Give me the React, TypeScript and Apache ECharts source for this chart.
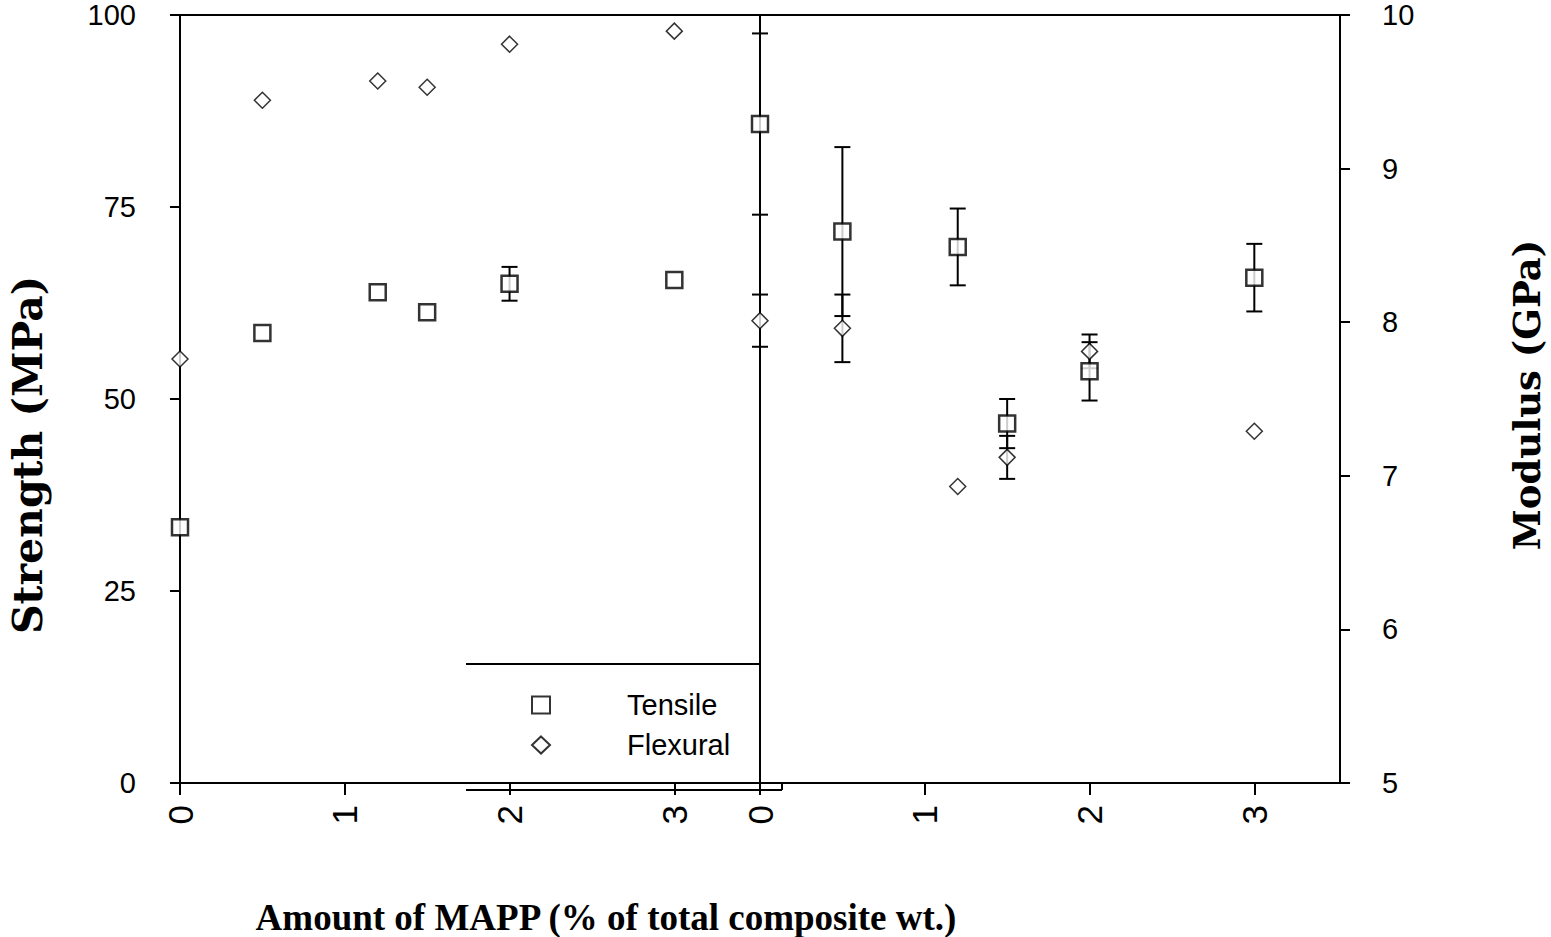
import React, { useEffect, useRef } from "react";
import * as echarts from "echarts";

// ---- data ----
const mappLevels = [0, 0.5, 1.2, 1.5, 2, 3];
const xTickValues = [0, 1, 2, 3];

const tensileStrength = [33.3, 58.6, 63.9, 61.3, 65.0, 65.5];
const tensileStrengthErr = [0, 0, 0, 0, 2.2, 0];
const flexuralStrength = [55.2, 88.9, 91.4, 90.6, 96.2, 97.9];

const tensileModulus = [9.29, 8.59, 8.49, 7.34, 7.68, 8.29];
const tensileModulusErr = [0.59, 0.55, 0.25, 0.16, 0.19, 0.22];
const flexuralModulus = [8.01, 7.96, 6.93, 7.12, 7.81, 7.29];
const flexuralModulusErr = [0.17, 0.22, 0, 0.14, 0.11, 0];

const seriesNames = ["Tensile", "Flexural"];
const strengthTicks = [0, 25, 50, 75, 100];
const modulusTicks = [5, 6, 7, 8, 9, 10];

const xTitle = "Amount of MAPP (% of total composite wt.)";
const yLeftTitle = "Strength (MPa)";
const yRightTitle = "Modulus (GPa)";

const pairs = (xs: number[], ys: number[]) => xs.map((x, i) => [x, ys[i]]);
const errRows = (xs: number[], ys: number[], es: number[]) =>
  xs
    .map((x, i) => [x, ys[i] - es[i], ys[i] + es[i]])
    .filter((_, i) => es[i] > 0);

const errorRender = (params: any, api: any) => {
  const x = api.value(0);
  const lo = api.coord([x, api.value(1)]);
  const hi = api.coord([x, api.value(2)]);
  const hw = 8;
  const st = { stroke: "#000", lineWidth: 2 };
  return {
    type: "group",
    children: [
      { type: "line", shape: { x1: lo[0], y1: lo[1], x2: hi[0], y2: hi[1] }, style: st },
      { type: "line", shape: { x1: lo[0] - hw, y1: lo[1], x2: lo[0] + hw, y2: lo[1] }, style: st },
      { type: "line", shape: { x1: hi[0] - hw, y1: hi[1], x2: hi[0] + hw, y2: hi[1] }, style: st },
    ],
  };
};

const tickFont = "'Liberation Sans', Arial, sans-serif";
const yTitleFont = "'DejaVu Serif', 'Liberation Serif', serif";
const xTitleFont = "'Liberation Serif', 'Times New Roman', serif";

export default function App() {
  const ref = useRef<HTMLDivElement>(null);

  useEffect(() => {
    if (!ref.current) return;
    const chart = echarts.init(ref.current, null, { renderer: "svg" });

    const xAxisBase = (gridIndex: number) => ({
      type: "value",
      gridIndex,
      min: 0,
      max: 3.52,
      axisLine: { show: true, onZero: false, lineStyle: { color: "#000", width: 2 } },
      axisTick: {
        show: true,
        length: 12,
        customValues: xTickValues,
        lineStyle: { color: "#000", width: 2 },
      },
      axisLabel: {
        customValues: xTickValues,
        rotate: 90,
        margin: 22,
        color: "#000",
        fontFamily: tickFont,
        fontSize: 35,
      },
      splitLine: { show: false },
    });

    const squareStyle = { color: "#fff", borderColor: "#000", borderWidth: 2.5 };
    const diamondStyle = { color: "#fff", borderColor: "#000", borderWidth: 1.5 };

    chart.setOption({
      animation: false,
      backgroundColor: "#fff",
      grid: [
        { left: 180, top: 15, width: 580, height: 768, show: true, borderColor: "#000", borderWidth: 2, backgroundColor: "transparent" },
        { left: 760, top: 15, width: 580, height: 768, show: true, borderColor: "#000", borderWidth: 2, backgroundColor: "transparent" },
      ],
      xAxis: [xAxisBase(0), xAxisBase(1)],
      yAxis: [
        {
          type: "value",
          gridIndex: 0,
          position: "left",
          min: strengthTicks[0],
          max: strengthTicks[strengthTicks.length - 1],
          interval: 25,
          axisLine: { show: true, onZero: false, lineStyle: { color: "#000", width: 2 } },
          axisTick: { show: true, length: 10, lineStyle: { color: "#000", width: 2 } },
          axisLabel: { margin: 44, color: "#000", fontFamily: tickFont, fontSize: 29 },
          splitLine: { show: false },
        },
        {
          type: "value",
          gridIndex: 1,
          position: "right",
          min: modulusTicks[0],
          max: modulusTicks[modulusTicks.length - 1],
          interval: 1,
          axisLine: { show: true, onZero: false, lineStyle: { color: "#000", width: 2 } },
          axisTick: { show: true, length: 10, lineStyle: { color: "#000", width: 2 } },
          axisLabel: { margin: 42, color: "#000", fontFamily: tickFont, fontSize: 29 },
          splitLine: { show: false },
        },
      ],
      legend: {
        orient: "vertical",
        left: 526,
        top: 684,
        padding: 5,
        itemWidth: 18,
        itemHeight: 17,
        itemGap: 8,
        selectedMode: false,
        data: [
          { name: seriesNames[0], icon: "rect" },
          { name: seriesNames[1], icon: "diamond" },
        ],
        textStyle: {
          color: "#000",
          fontFamily: tickFont,
          fontSize: 29,
          lineHeight: 32,
          padding: [0, 0, 0, 72],
        },
      },
      graphic: [
        { type: "line", shape: { x1: 466, y1: 664, x2: 760, y2: 664 }, style: { stroke: "#000", lineWidth: 2 } },
        { type: "line", shape: { x1: 466, y1: 790, x2: 782, y2: 790 }, style: { stroke: "#000", lineWidth: 2 } },
        { type: "line", shape: { x1: 782, y1: 783, x2: 782, y2: 790 }, style: { stroke: "#000", lineWidth: 2 } },
        {
          type: "text",
          x: 28,
          y: 455,
          rotation: Math.PI / 2,
          style: {
            text: yLeftTitle,
            fill: "#000",
            font: `bold 41px ${yTitleFont}`,
            align: "center",
            verticalAlign: "middle",
          },
        },
        {
          type: "text",
          x: 1527,
          y: 395,
          rotation: Math.PI / 2,
          style: {
            text: yRightTitle,
            fill: "#000",
            font: `bold 37px ${yTitleFont}`,
            align: "center",
            verticalAlign: "middle",
          },
        },
        {
          type: "text",
          x: 606,
          y: 917,
          style: {
            text: xTitle,
            fill: "#000",
            font: `bold 37px ${xTitleFont}`,
            align: "center",
            verticalAlign: "middle",
          },
        },
      ],
      series: [
        {
          type: "custom",
          name: "Tensile strength error",
          xAxisIndex: 0,
          yAxisIndex: 0,
          clip: false,
          z: 1,
          renderItem: errorRender,
          encode: { x: 0, y: [1, 2] },
          data: errRows(mappLevels, tensileStrength, tensileStrengthErr),
        },
        {
          type: "custom",
          name: "Tensile modulus error",
          xAxisIndex: 1,
          yAxisIndex: 1,
          clip: false,
          z: 1,
          renderItem: errorRender,
          encode: { x: 0, y: [1, 2] },
          data: errRows(mappLevels, tensileModulus, tensileModulusErr),
        },
        {
          type: "custom",
          name: "Flexural modulus error",
          xAxisIndex: 1,
          yAxisIndex: 1,
          clip: false,
          z: 1,
          renderItem: errorRender,
          encode: { x: 0, y: [1, 2] },
          data: errRows(mappLevels, flexuralModulus, flexuralModulusErr),
        },
        {
          type: "scatter",
          name: seriesNames[0],
          xAxisIndex: 0,
          yAxisIndex: 0,
          symbol: "rect",
          symbolSize: 16,
          clip: false,
          z: 5,
          itemStyle: squareStyle,
          data: pairs(mappLevels, tensileStrength),
        },
        {
          type: "scatter",
          name: seriesNames[1],
          xAxisIndex: 0,
          yAxisIndex: 0,
          symbol: "diamond",
          symbolSize: 16,
          clip: false,
          z: 5,
          itemStyle: diamondStyle,
          data: pairs(mappLevels, flexuralStrength),
        },
        {
          type: "scatter",
          name: seriesNames[0],
          xAxisIndex: 1,
          yAxisIndex: 1,
          symbol: "rect",
          symbolSize: 16,
          clip: false,
          z: 5,
          itemStyle: squareStyle,
          data: pairs(mappLevels, tensileModulus),
        },
        {
          type: "scatter",
          name: seriesNames[1],
          xAxisIndex: 1,
          yAxisIndex: 1,
          symbol: "diamond",
          symbolSize: 16,
          clip: false,
          z: 5,
          itemStyle: diamondStyle,
          data: pairs(mappLevels, flexuralModulus),
        },
      ],
    });

    return () => chart.dispose();
  }, []);

  return (
    <div
      ref={ref}
      style={{ position: "fixed", left: 0, top: 0, width: 1551, height: 937, background: "#fff" }}
    />
  );
}
